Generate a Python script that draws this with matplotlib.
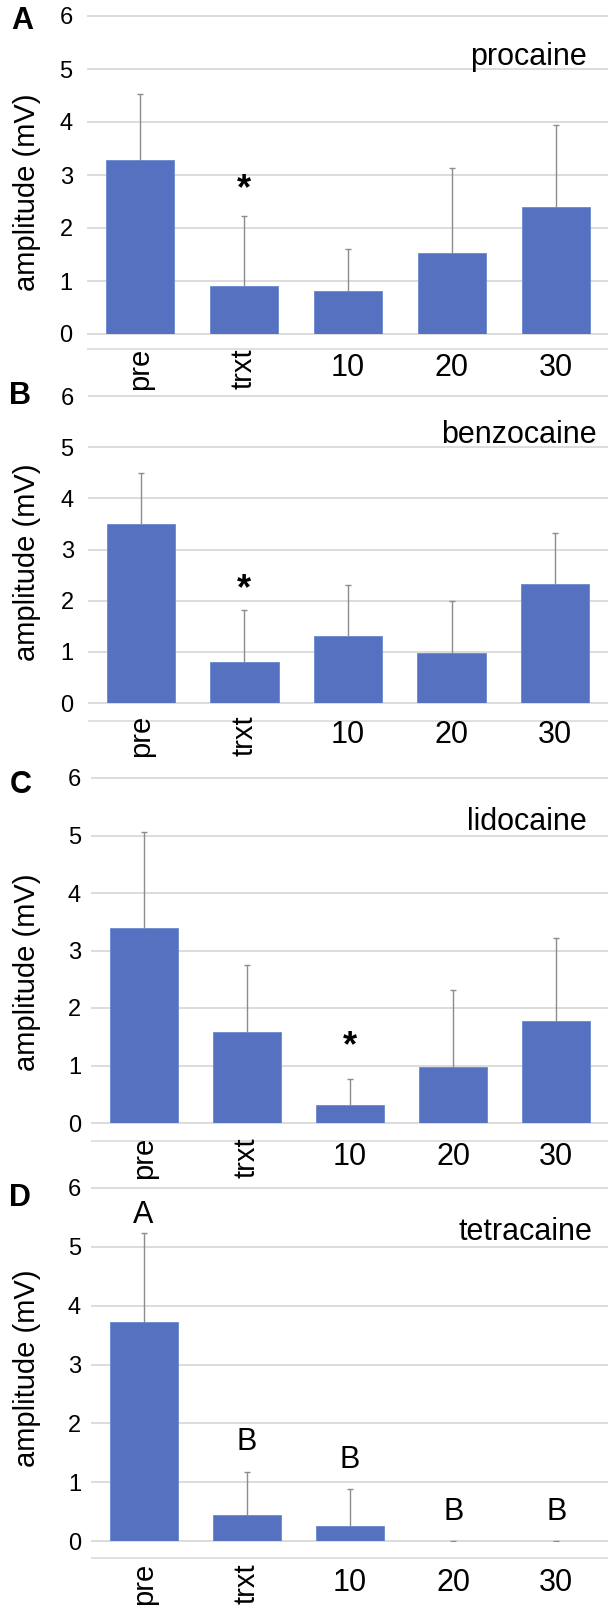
import matplotlib
matplotlib.use("Agg")
import matplotlib.pyplot as plt
from matplotlib.transforms import blended_transform_factory, offset_copy

plt.rcParams['font.family'] = ['Liberation Sans', 'DejaVu Sans']

categories = ["pre", "trxt", "10", "20", "30"]
rotated = [True, True, False, False, False]

drugs = ["procaine", "benzocaine", "lidocaine", "tetracaine"]
panel_letters = ["A", "B", "C", "D"]

procaine_mean = [3.29, 0.90, 0.82, 1.52, 2.39]
procaine_err = [1.23, 1.33, 0.78, 1.61, 1.56]
benzocaine_mean = [3.49, 0.81, 1.31, 0.98, 2.33]
benzocaine_err = [1.00, 1.01, 0.99, 1.01, 1.00]
lidocaine_mean = [3.40, 1.58, 0.31, 0.98, 1.77]
lidocaine_err = [1.66, 1.16, 0.45, 1.33, 1.44]
tetracaine_mean = [3.72, 0.44, 0.25, 0.0, 0.0]
tetracaine_err = [1.51, 0.74, 0.63, 0.0, 0.0]

means = [procaine_mean, benzocaine_mean, lidocaine_mean, tetracaine_mean]
errs = [procaine_err, benzocaine_err, lidocaine_err, tetracaine_err]

# annotations: (panel index, category index, y value, text)
star_marks = [(0, 1, 2.72, "*"), (1, 1, 2.21, "*"), (2, 2, 1.32, "*")]
letter_marks = [(3, 0, 5.54, "A"), (3, 1, 1.69, "B"), (3, 2, 1.38, "B"),
                (3, 3, 0.50, "B"), (3, 4, 0.50, "B")]

yticks = [0, 1, 2, 3, 4, 5, 6]

W, H = 608, 1605
fig = plt.figure(figsize=(W / 100, H / 100), dpi=100)

# layout in pixels: left, right, top(y=6), bottom(y=0)
boxes = [(88, 608, 16, 334), (89, 607, 396, 703), (92, 608, 778, 1123), (92, 608, 1188, 1541)]
ylab_center = [192, 562, 972, 1368]
title_pos = [(587, 57), (597, 435), (587, 822), (592, 1232)]
letter_pos = [(22, 21), (20, 396), (21, 785), (20, 1198)]
ytick_pad = [11, 11, 8, 8]
rot_pad = [14, 12, 14, 22]
num_pad = [19, 17, 19, 27]
spine_off = [11, 13, 13, 12]

bar_color = "#5571C0"
grid_color = "#D9D9D9"
err_color = "#8C8C8C"

for p in range(4):
    l, r, t, b = boxes[p]
    ax = fig.add_axes([l / W, 1 - b / H, (r - l) / W, (b - t) / H])
    x = list(range(len(categories)))
    tops = [m + e for m, e in zip(means[p], errs[p])]
    ax.bar(x, means[p], width=0.66, color=bar_color, edgecolor="#6A86D0", linewidth=0.6, zorder=3)
    ax.vlines(x, means[p], tops, color=err_color, lw=1.0, zorder=4)
    ax.plot(x, tops, linestyle='none', marker='_', markersize=5, markeredgewidth=1.0,
            color=err_color, zorder=4)
    ax.set_xlim(-0.5, 4.5)
    ax.set_ylim(0, 6)
    ax.set_yticks(yticks)
    ax.set_yticklabels([str(v) for v in yticks], fontsize=17)
    ax.tick_params(axis='y', length=0, pad=ytick_pad[p])
    ax.tick_params(axis='x', length=0, labelbottom=False)
    for yv in yticks:
        ax.axhline(yv, color=grid_color, lw=1.3, zorder=1, clip_on=False)
    for s in ['top', 'right', 'left']:
        ax.spines[s].set_visible(False)
    ax.spines['bottom'].set_position(('outward', spine_off[p]))
    ax.spines['bottom'].set_color("#DDDDDD")
    ax.spines['bottom'].set_linewidth(1.3)

    trans = blended_transform_factory(ax.transData, ax.transAxes)
    for i, lab in enumerate(categories):
        if rotated[i]:
            tr = offset_copy(trans, fig=fig, x=0, y=-rot_pad[p], units='dots')
            ax.text(i, 0, lab, rotation=90, ha='center', va='top', fontsize=21, transform=tr)
        else:
            tr = offset_copy(trans, fig=fig, x=0, y=-num_pad[p], units='dots')
            ax.text(i, 0, lab, ha='center', va='top', fontsize=22, transform=tr)

    for (pi, ci, yv, txt) in star_marks:
        if pi == p:
            ax.text(ci, yv, txt, ha='center', va='center', fontsize=26, fontweight='bold', zorder=5)
    for (pi, ci, yv, txt) in letter_marks:
        if pi == p:
            ax.text(ci, yv, txt, ha='center', va='center', fontsize=22, zorder=5)

    tx, ty = title_pos[p]
    fig.text(tx / W, 1 - ty / H, drugs[p], ha='right', va='center', fontsize=22)
    lx, ly = letter_pos[p]
    fig.text(lx / W, 1 - ly / H, panel_letters[p], ha='center', va='center', fontsize=22, fontweight='bold')
    fig.text(27 / W, 1 - ylab_center[p] / H, "amplitude (mV)", rotation=90, ha='center', va='center', fontsize=21)

fig.savefig("out.png", dpi=100)
